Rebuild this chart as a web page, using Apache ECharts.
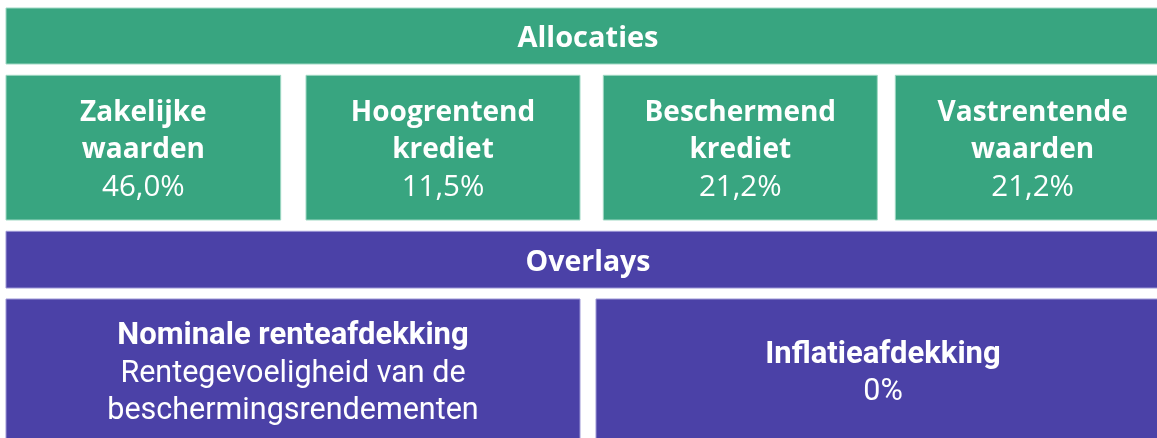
<!DOCTYPE html>
<html>
<head>
<meta charset="utf-8">
<script src="https://cdn.jsdelivr.net/npm/echarts@6/dist/echarts.min.js"></script>
<style>
html,body{margin:0;padding:0;background:#fff;}
#chart{width:1157px;height:438px;}
</style>
</head>
<body>
<div id="chart"></div>
<script>
// ---- data ----
const sectionTitles = ['Allocaties', 'Overlays'];
const allocationNames = [['Zakelijke', 'waarden'], ['Hoogrentend', 'krediet'], ['Beschermend', 'krediet'], ['Vastrentende', 'waarden']];
const allocationValues = [46.0, 11.5, 21.2, 21.2];
const overlayNames = ['Nominale renteafdekking', 'Inflatieafdekking'];
const overlayDetails = [['Rentegevoeligheid van de', 'beschermingsrendementen'], ['0%']];

// ---- layout / style ----
const GREEN = '#38A580', GREEN_EDGE = '#9fd9c4';
const PURPLE = '#4B41A7', PURPLE_EDGE = '#9d97d6';
const RIGHT = 1170;
const allocLefts = [6, 306, 603.3, 895.3];
const allocRights = [280.7, 580, 877.3, RIGHT];
const overlayLefts = [6, 596];
const overlayRights = [580, RIGHT];
const FONT_TOP = '"Open Sans", sans-serif';
const FONT_BOT = 'Roboto, sans-serif';

function fmt(v) { return v.toFixed(1).replace('.', ',') + '%'; }

const chart = echarts.init(document.getElementById('chart'), null, {renderer: 'canvas'});
const g = [];
function box(x1, y1, x2, y2, fill, edge) {
  g.push({type: 'rect', shape: {x: x1, y: y1, width: x2 - x1, height: y2 - y1},
    style: {fill: fill, stroke: edge, lineWidth: 1}, silent: true});
}
function lines(cx, cy, arr, lh) {
  const n = arr.length;
  arr.forEach((l, i) => {
    g.push({type: 'text', x: cx, y: cy + (i - (n - 1) / 2) * lh, silent: true,
      style: {text: l.t, fill: '#ffffff', align: 'center', verticalAlign: 'middle',
        font: (l.bold ? 'bold ' : '') + l.size + 'px ' + l.font}});
  });
}

// Allocaties header
box(6, 8, RIGHT, 64, GREEN, GREEN_EDGE);
lines((6 + RIGHT) / 2, 38.5, [{t: sectionTitles[0], bold: true, size: 29, font: FONT_TOP}], 0);

// Allocation boxes
allocationNames.forEach((nm, i) => {
  box(allocLefts[i], 75.3, allocRights[i], 220, GREEN, GREEN_EDGE);
  const arr = nm.map(t => ({t, bold: true, size: 28, font: FONT_TOP}));
  arr.push({t: fmt(allocationValues[i]), bold: false, size: 29.5, font: FONT_TOP});
  lines((allocLefts[i] + allocRights[i]) / 2, 150.5, arr, 37);
});

// Overlays header
box(6, 231.3, RIGHT, 288, PURPLE, PURPLE_EDGE);
lines((6 + RIGHT) / 2, 262.5, [{t: sectionTitles[1], bold: true, size: 28.5, font: FONT_TOP}], 0);

// Overlay boxes
overlayNames.forEach((nm, i) => {
  box(overlayLefts[i], 299, overlayRights[i], 444, PURPLE, PURPLE_EDGE);
  const arr = [{t: nm, bold: true, size: 31, font: FONT_BOT}];
  overlayDetails[i].forEach(t => arr.push({t, bold: false, size: 30.5, font: FONT_BOT}));
  lines((overlayLefts[i] + overlayRights[i]) / 2, 374, arr, 37.5);
});

chart.setOption({animation: false, graphic: {elements: g}});
</script>
</body>
</html>
